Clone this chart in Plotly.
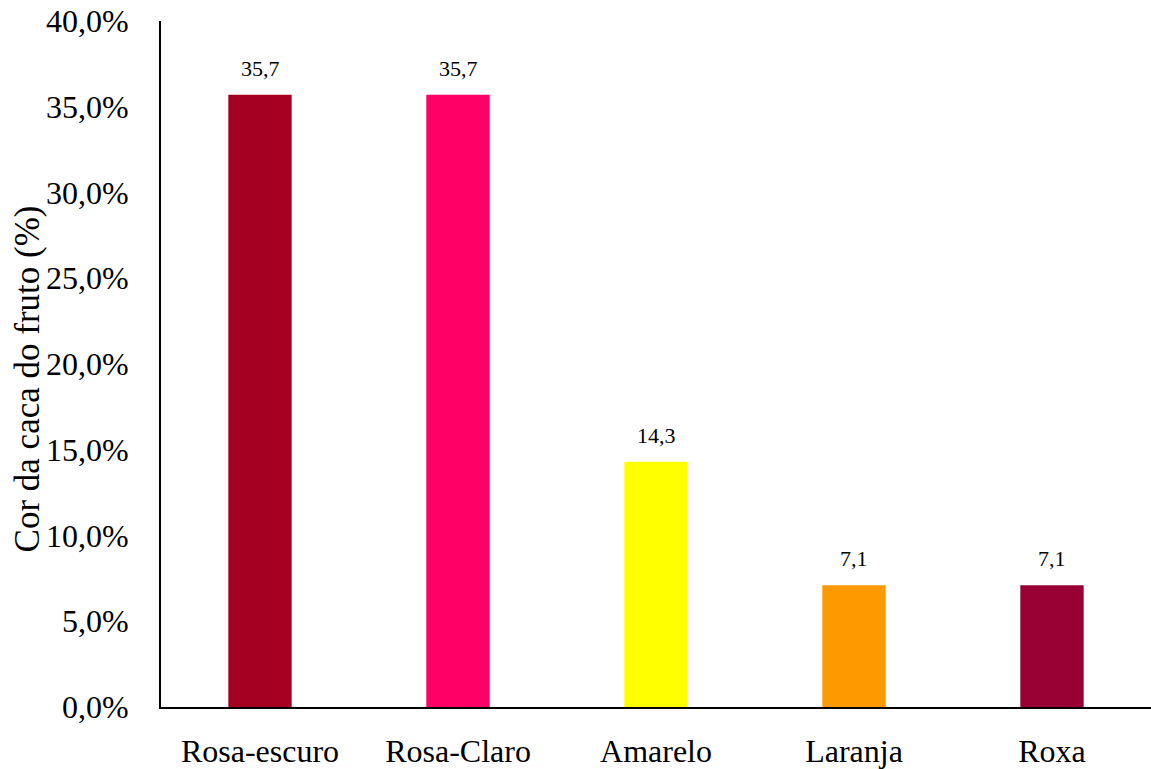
import plotly.graph_objects as go

categories = ["Rosa-escuro", "Rosa-Claro", "Amarelo", "Laranja", "Roxa"]
values = [35.7, 35.7, 14.3, 7.1, 7.1]
labels = ["35,7", "35,7", "14,3", "7,1", "7,1"]
colors = ["#A50021", "#FF0066", "#FFFF00", "#FF9900", "#990033"]
y_ticks = [0, 5, 10, 15, 20, 25, 30, 35, 40]
y_tick_text = ["0,0%", "5,0%", "10,0%", "15,0%", "20,0%", "25,0%", "30,0%", "35,0%", "40,0%"]
y_title = "Cor da caca do fruto (%)"

FONT = "Times New Roman"

fig = go.Figure()
fig.add_trace(go.Bar(
    x=categories, y=values, marker=dict(color=colors, line=dict(width=0)),
    width=0.32, showlegend=False, hoverinfo="skip",
))
for c, v, t in zip(categories, values, labels):
    fig.add_annotation(x=c, y=v, text=t, showarrow=False, yanchor="bottom",
                       yshift=12, font=dict(family=FONT, size=22, color="black"))

# y-axis title placed as a rotated annotation (slightly below plot centre as in reference)
fig.add_annotation(xref="paper", yref="paper", x=-0.135, y=0.478, text=y_title,
                   textangle=-90, showarrow=False, xanchor="center", yanchor="middle",
                   font=dict(family=FONT, size=35, color="black"))

fig.update_layout(
    width=1151, height=769,
    margin=dict(l=161, r=0, t=21, b=58),
    paper_bgcolor="white", plot_bgcolor="white",
    font=dict(family=FONT, color="black", size=32),
    bargap=0.68,
)
fig.update_xaxes(
    showline=True, linecolor="black", linewidth=2, showgrid=False,
    ticks="", tickfont=dict(family=FONT, size=32, color="black"),
    ticklabelstandoff=15,
)
fig.update_yaxes(
    range=[0, 40], tickvals=y_ticks, ticktext=y_tick_text,
    showline=True, linecolor="black", linewidth=2, showgrid=False, zeroline=False,
    ticks="", tickfont=dict(family=FONT, size=32, color="black"),
    ticklabelstandoff=24,
)
fig.write_html("out.html")
